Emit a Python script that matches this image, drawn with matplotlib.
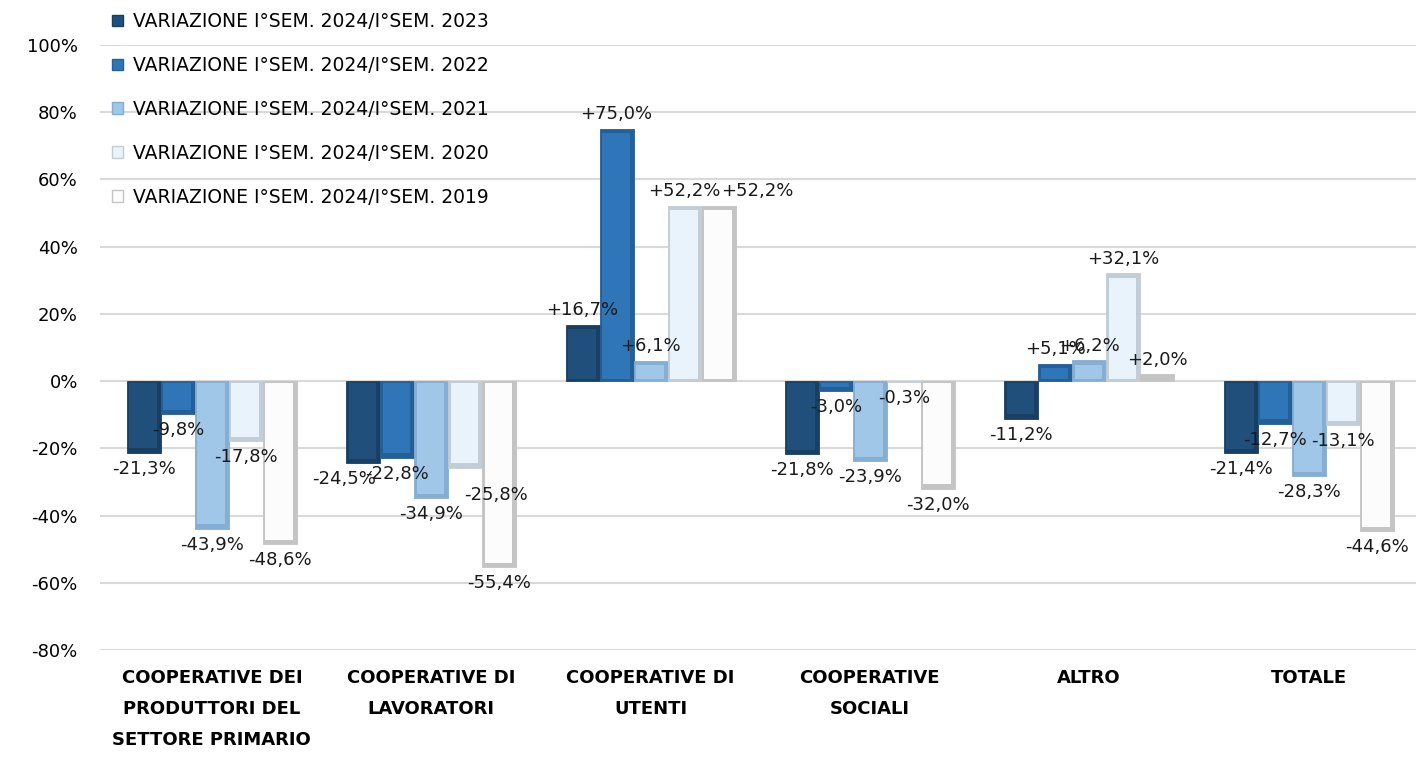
import numpy as np
import matplotlib
matplotlib.use('Agg')
import matplotlib.pyplot as plt
from matplotlib.patches import Patch

# dati
categorie = ['COOPERATIVE DEI\nPRODUTTORI DEL\nSETTORE PRIMARIO', 'COOPERATIVE DI\nLAVORATORI',
             'COOPERATIVE DI\nUTENTI', 'COOPERATIVE\nSOCIALI', 'ALTRO', 'TOTALE']
serie_nomi = ['VARIAZIONE I°SEM. 2024/I°SEM. 2023', 'VARIAZIONE I°SEM. 2024/I°SEM. 2022',
              'VARIAZIONE I°SEM. 2024/I°SEM. 2021', 'VARIAZIONE I°SEM. 2024/I°SEM. 2020',
              'VARIAZIONE I°SEM. 2024/I°SEM. 2019']
var_2023 = [-21.3, -24.5, 16.7, -21.8, -11.2, -21.4]
var_2022 = [-9.8, -22.8, 75.0, -3.0, 5.1, -12.7]
var_2021 = [-43.9, -34.9, 6.1, -23.9, 6.2, -28.3]
var_2020 = [-17.8, -25.8, 52.2, -0.3, 32.1, -13.1]
var_2019 = [-48.6, -55.4, 52.2, -32.0, 2.0, -44.6]
serie = [var_2023, var_2022, var_2021, var_2020, var_2019]

colori = ['#204f7c', '#2f76b8', '#a0c6e8', '#e8f3fc', '#fcfcfc']
cornici = ['#183f64', '#255f97', '#86aed2', '#c2cdd6', '#c4c4c4']

# spostamenti manuali di alcune etichette (serie, categoria) -> (dx, dy) in punti
spost = {(0, 1): (-14, 0), (3, 1): (22, -8), (4, 2): (28, 0)}

plt.rcParams['font.family'] = ['DejaVu Sans']

fig = plt.figure(figsize=(14.16, 7.57), dpi=100)
ax = fig.add_axes([100 / 1416, 1 - 650 / 757, 1 - 100 / 1416, (650 - 45) / 757])

x = np.arange(len(categorie))
w = 0.155
dx = 0.014   # rientro per l'effetto smussato
dy = 1.0
for i, vals in enumerate(serie):
    pos = x + (i - 2) * w
    ax.bar(pos, vals, width=w, color=cornici[i], edgecolor=cornici[i], linewidth=0.6, zorder=3)
    for j, (xp, v) in enumerate(zip(pos, vals)):
        if abs(v) > 2 * dy + 0.5:
            segno = 1 if v > 0 else -1
            ax.bar(xp - 0.003, v - segno * 1.8 * dy, bottom=segno * dy * 0.5, width=w - 2 * dx,
                   color=colori[i], linewidth=0, zorder=4)
        testo = ('+' if v > 0 else '') + f'{v:.1f}'.replace('.', ',') + '%'
        ox, oy = spost.get((i, j), (0, 0))
        ax.annotate(testo, (xp, v), xytext=(ox, (4 if v > 0 else -5) + oy), textcoords='offset points',
                    ha='center', va='bottom' if v > 0 else 'top', fontsize=13,
                    color='#1a1a1a', zorder=5)

ax.set_xlim(-0.51, 5.49)
ax.set_ylim(-80, 100)
ax.set_yticks(np.arange(-80, 101, 20))
ax.set_yticklabels([f'{t}%' for t in range(-80, 101, 20)], fontsize=13)
ax.set_xticks(x)
ax.set_xticklabels(categorie, fontsize=13, fontweight='bold', linespacing=1.9, va='top')
ax.tick_params(length=0)
ax.tick_params(axis='x', pad=14)
ax.tick_params(axis='y', pad=16)
ax.grid(axis='y', color='#d9d9d9', linewidth=1.5, zorder=0)
for s in ax.spines.values():
    s.set_visible(False)

handles = [Patch(facecolor=colori[i], edgecolor=cornici[i], label=serie_nomi[i]) for i in range(5)]
fig.legend(handles=handles, loc='upper left', bbox_to_anchor=(99 / 1416, 1 + 1 / 757),
           frameon=False, fontsize=13.5, handlelength=0.6, handleheight=0.6, handletextpad=0.5,
           labelspacing=1.33, borderpad=0.2)

fig.savefig('out.png', dpi=100, facecolor='white')
